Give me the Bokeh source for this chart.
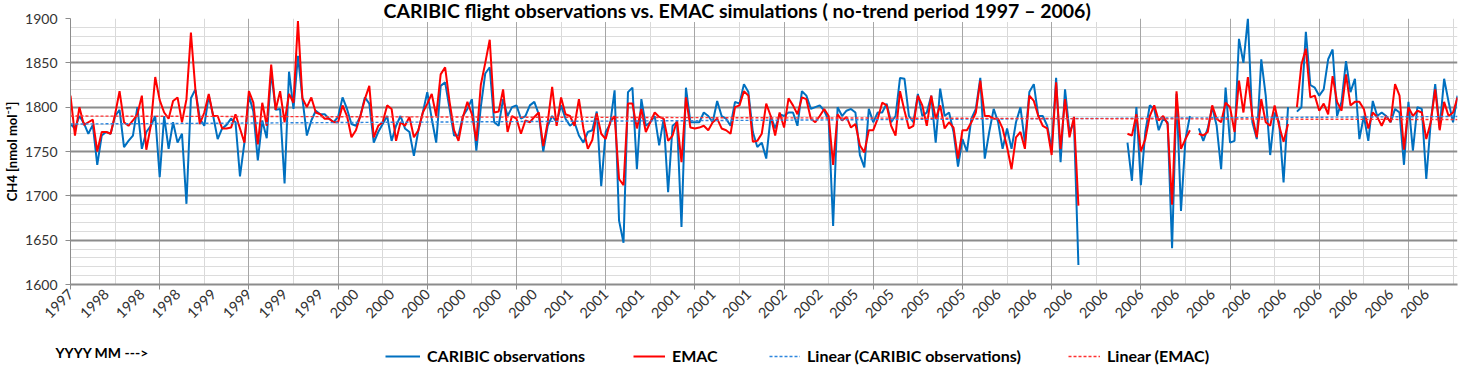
import math
import numpy as np
from bokeh.plotting import figure
from bokeh.layouts import column
from bokeh.models import FixedTicker, Grid, Legend, LegendItem, Range1d, ColumnDataSource, Label
from bokeh.embed import file_html
from bokeh.resources import INLINE

nan = float("nan")

caribic = [
    1781, 1776, 1790, 1782, 1770, 1780, 1735, 1768, 1772, 1770,
    1790, 1797, 1755, 1762, 1768, 1800, 1753, 1772, 1779, 1790,
    1721, 1790, 1753, 1783, 1760, 1770, 1691, 1810, 1820, 1787,
    1779, 1813, 1790, 1764, 1776, 1780, 1787, 1783, 1722, 1760,
    1813, 1795, 1740, 1785, 1765, 1840, 1797, 1798, 1714, 1840,
    1798, 1858, 1810, 1768, 1785, 1796, 1792, 1792, 1787, 1783,
    1789, 1811, 1798, 1781, 1779, 1790, 1811, 1804, 1760, 1772,
    1781, 1790, 1762, 1779, 1790, 1776, 1772, 1745, 1774, 1794,
    1817, 1787, 1760, 1824, 1828, 1798, 1768, 1768, 1790, 1798,
    1809, 1751, 1800, 1838, 1845, 1783, 1779, 1809, 1790, 1800,
    1802, 1787, 1790, 1802, 1806, 1792, 1750, 1779, 1790, 1783,
    1802, 1787, 1779, 1783, 1768, 1760, 1772, 1774, 1795, 1711,
    1772, 1781, 1819, 1672, 1647, 1817, 1822, 1730, 1809, 1779,
    1783, 1790, 1757, 1787, 1704, 1779, 1783, 1665, 1822, 1783,
    1783, 1783, 1794, 1790, 1783, 1807, 1790, 1787, 1779, 1806,
    1804, 1826, 1817, 1772, 1755, 1760, 1742, 1790, 1776, 1792,
    1790, 1794, 1794, 1779, 1818, 1813, 1798, 1800, 1802, 1796,
    1785, 1666, 1800, 1790, 1796, 1798, 1794, 1746, 1732, 1798,
    1783, 1794, 1794, 1804, 1783, 1790, 1833, 1832, 1790, 1783,
    1815, 1790, 1794, 1813, 1760, 1821, 1790, 1794, 1772, 1733,
    1764, 1750, 1787, 1798, 1833, 1742, 1772, 1798, 1783, 1753,
    1776, 1753, 1783, 1800, 1760, 1817, 1826, 1790, 1790, 1779,
    1753, 1833, 1738, 1820, 1772, 1783, 1622, nan, nan, nan,
    nan, nan, nan, nan, nan, nan, nan, 1760, 1717, 1800,
    1712, 1772, 1802, 1798, 1774, 1787, 1783, 1641, 1815, 1683,
    1764, 1790, nan, 1776, 1762, 1776, 1800, 1779, 1730, 1822,
    1760, 1762, 1877, 1850, 1900, 1783, 1764, 1854, 1813, 1746,
    1794, 1783, 1715, 1800, nan, 1795, 1800, 1885, 1825, 1822,
    1813, 1820, 1854, 1865, 1790, 1806, 1852, 1817, 1832, 1764,
    1790, 1762, 1807, 1790, 1794, 1790, 1783, 1798, 1794, 1735,
    1806, 1751, 1800, 1798, 1719, 1783, 1826, 1776, 1832, 1806,
    1783, 1813,
]

emac = [
    1813, 1768, 1800, 1780, 1783, 1786, 1750, 1772, 1772, 1770,
    1792, 1818, 1783, 1779, 1785, 1792, 1813, 1752, 1779, 1834,
    1808, 1794, 1787, 1807, 1811, 1783, 1809, 1884, 1820, 1781,
    1794, 1815, 1790, 1790, 1776, 1776, 1777, 1792, 1776, 1760,
    1818, 1805, 1758, 1805, 1779, 1848, 1797, 1818, 1783, 1815,
    1805, 1897, 1810, 1800, 1811, 1794, 1792, 1787, 1787, 1783,
    1783, 1802, 1790, 1766, 1774, 1790, 1809, 1824, 1766, 1779,
    1783, 1802, 1798, 1762, 1783, 1779, 1789, 1766, 1774, 1794,
    1804, 1815, 1790, 1837, 1845, 1806, 1774, 1762, 1789, 1806,
    1792, 1762, 1825, 1850, 1876, 1794, 1795, 1820, 1772, 1790,
    1787, 1770, 1785, 1783, 1789, 1794, 1756, 1783, 1823, 1779,
    1811, 1792, 1790, 1779, 1809, 1776, 1753, 1763, 1793, 1770,
    1764, 1783, 1790, 1719, 1712, 1804, 1804, 1776, 1798, 1772,
    1783, 1794, 1789, 1787, 1762, 1768, 1785, 1738, 1811, 1777,
    1776, 1777, 1779, 1774, 1783, 1787, 1776, 1774, 1770, 1800,
    1802, 1818, 1813, 1761, 1762, 1770, 1804, 1790, 1768, 1794,
    1777, 1810, 1802, 1792, 1811, 1809, 1787, 1783, 1790, 1798,
    1790, 1735, 1792, 1785, 1789, 1777, 1781, 1757, 1749, 1774,
    1774, 1787, 1805, 1802, 1779, 1768, 1818, 1796, 1776, 1779,
    1813, 1802, 1779, 1813, 1787, 1802, 1776, 1783, 1777, 1742,
    1774, 1774, 1783, 1794, 1830, 1790, 1790, 1787, 1787, 1776,
    1755, 1730, 1766, 1772, 1753, 1813, 1807, 1790, 1779, 1776,
    1746, 1828, 1753, 1809, 1766, 1789, 1689, nan, nan, nan,
    nan, nan, nan, nan, nan, nan, nan, 1770, 1768, 1792,
    1750, 1764, 1790, 1802, 1785, 1790, 1781, 1690, 1818, 1753,
    1764, 1774, nan, 1770, 1768, 1772, 1802, 1787, 1783, 1805,
    1800, 1772, 1830, 1794, 1834, 1790, 1766, 1809, 1783, 1779,
    1802, 1779, 1761, 1781, nan, 1800, 1848, 1866, 1811, 1813,
    1796, 1804, 1792, 1835, 1806, 1796, 1837, 1802, 1806, 1806,
    1798, 1776, 1794, 1789, 1779, 1790, 1783, 1826, 1813, 1752,
    1800, 1790, 1796, 1794, 1764, 1783, 1820, 1774, 1806, 1790,
    1794, 1811,
]

tick_labels = (["1997"] + ["1998"] * 3 + ["1999"] * 4 + ["2000"] * 6 + ["2001"] * 6
               + ["2002"] * 2 + ["2005"] * 4 + ["2006"] * 13)

trend_caribic = [1781.0, 1789.5]
trend_emac = [1790.0, 1786.0]

series_names = ["CARIBIC observations", "EMAC", "Linear (CARIBIC observations)", "Linear (EMAC)"]
title_text = "CARIBIC  flight observations  vs. EMAC simulations  ( no-trend  period  1997 \u2013 2006)"
x_note = "YYYY MM --->"

FONT = "Lato"
BLUE, RED = "#0070C0", "#FF0000"
TBLUE, TRED = "#2E86DE", "#FF3030"
n = len(caribic)
xs = np.arange(n, dtype=float)
last = float(n - 1)
label_step = 8

src = ColumnDataSource(dict(x=xs, obs=np.array(caribic, dtype=float), emac=np.array(emac, dtype=float)))

W = 1464
p = figure(width=W, height=340, output_backend="svg", toolbar_location=None,
           x_range=Range1d(0, last), y_range=Range1d(1600, 1900),
           min_border_left=70, min_border_right=7, min_border_top=0, min_border_bottom=56,
           title=title_text)
p.frame_align = False
p.outline_line_color = None
p.xgrid.visible = False
p.ygrid.visible = False

p.title.align = "left"
p.title.offset = 313
p.title.standoff = -7
p.title.text_font = FONT
p.title.text_font_size = "19.5px"
p.title.text_font_style = "bold"
p.title.text_color = "black"
p.title.background_fill_color = "white"

# grids
p.add_layout(Grid(dimension=0, ticker=FixedTicker(ticks=[t for t in range(10, n, 20)]),
                  grid_line_color="#D9D9D9", grid_line_width=1))
p.add_layout(Grid(dimension=1, ticker=FixedTicker(ticks=[v for v in range(1610, 1900, 10) if v % 50]),
                  grid_line_color="#DCDCDC", grid_line_width=1))
p.add_layout(Grid(dimension=0, ticker=FixedTicker(ticks=list(range(0, n, 20))),
                  grid_line_color="#A6A6A6", grid_line_width=1))
p.add_layout(Grid(dimension=1, ticker=FixedTicker(ticks=list(range(1600, 1901, 50))),
                  grid_line_color="#8C8C8C", grid_line_width=2))

# x axis
xt = [i * label_step for i in range(len(tick_labels))]
p.xaxis.ticker = FixedTicker(ticks=xt, minor_ticks=list(range(0, n, 20)))
p.xaxis.major_label_overrides = {t: lab for t, lab in zip(xt, tick_labels)}
p.xaxis.major_label_orientation = math.pi / 4
p.xaxis.major_tick_line_color = None
p.xaxis.major_tick_in = 0
p.xaxis.major_tick_out = 5
p.xaxis.minor_tick_in = 0
p.xaxis.minor_tick_out = 5
p.xaxis.minor_tick_line_color = "#8C8C8C"
p.xaxis.axis_line_color = "#8C8C8C"
p.xaxis.axis_line_width = 2
p.xaxis.major_label_text_font = FONT
p.xaxis.major_label_text_font_size = "14.5px"
p.xaxis.major_label_text_color = "#333333"
p.xaxis.major_label_standoff = 2

# y axis
p.yaxis.ticker = FixedTicker(ticks=list(range(1600, 1901, 50)))
p.yaxis.minor_tick_line_color = None
p.yaxis.major_tick_in = 0
p.yaxis.major_tick_out = 5
p.yaxis.major_tick_line_color = "#8C8C8C"
p.yaxis.axis_line_color = "#8C8C8C"
p.yaxis.major_label_text_font = FONT
p.yaxis.major_label_text_font_size = "14px"
p.yaxis.major_label_text_color = "#333333"
p.yaxis.major_label_standoff = 8
p.yaxis.axis_label = "CH4 [nmol mol\u207b\u00b9]"
p.yaxis.axis_label_text_font = FONT
p.yaxis.axis_label_text_font_size = "13px"
p.yaxis.axis_label_text_font_style = "bold"
p.yaxis.axis_label_text_color = "black"
p.yaxis.axis_label_standoff = 2

# series
p.line("x", "obs", source=src, line_color=BLUE, line_width=2)
p.line("x", "emac", source=src, line_color=RED, line_width=2)
p.line([0.0, last], trend_caribic, line_color=TBLUE, line_width=1.4, line_dash="3 2")
p.line([0.0, last], trend_emac, line_color=TRED, line_width=1.4, line_dash="3 2")

# legend strip (separate figure so nothing is clipped)
H2 = 28
q = figure(width=W, height=H2, output_backend="svg", toolbar_location=None,
           x_range=Range1d(0, W), y_range=Range1d(0, H2),
           x_axis_location=None, y_axis_location=None,
           min_border_left=0, min_border_right=0, min_border_top=0, min_border_bottom=0)
q.frame_align = False
q.outline_line_color = None
q.xgrid.visible = False
q.ygrid.visible = False

styles = [dict(line_color=BLUE, line_width=2), dict(line_color=RED, line_width=2),
          dict(line_color=TBLUE, line_width=1.4, line_dash="3 2"),
          dict(line_color=TRED, line_width=1.4, line_dash="3 2")]
leg_x = [385, 633, 769, 1068]
leg_gw = [35, 32, 31, 32]
for name, st, lx, gw in zip(series_names, styles, leg_x, leg_gw):
    r = q.line([nan, nan], [nan, nan], **st)
    q.add_layout(Legend(items=[LegendItem(label=name, renderers=[r])], location=(lx, 3),
                        orientation="horizontal", padding=0, margin=0, spacing=0,
                        glyph_width=gw, glyph_height=16, label_standoff=7, label_height=16,
                        label_text_font=FONT, label_text_font_size="16px",
                        label_text_font_style="bold", label_text_color="black",
                        background_fill_alpha=0, border_line_color=None))

q.add_layout(Label(x=55, y=16, text=x_note, text_font=FONT, text_font_size="14px",
                   text_font_style="bold", text_color="black", text_baseline="middle"))

open("out.html", "w").write(file_html(column(p, q), INLINE))
